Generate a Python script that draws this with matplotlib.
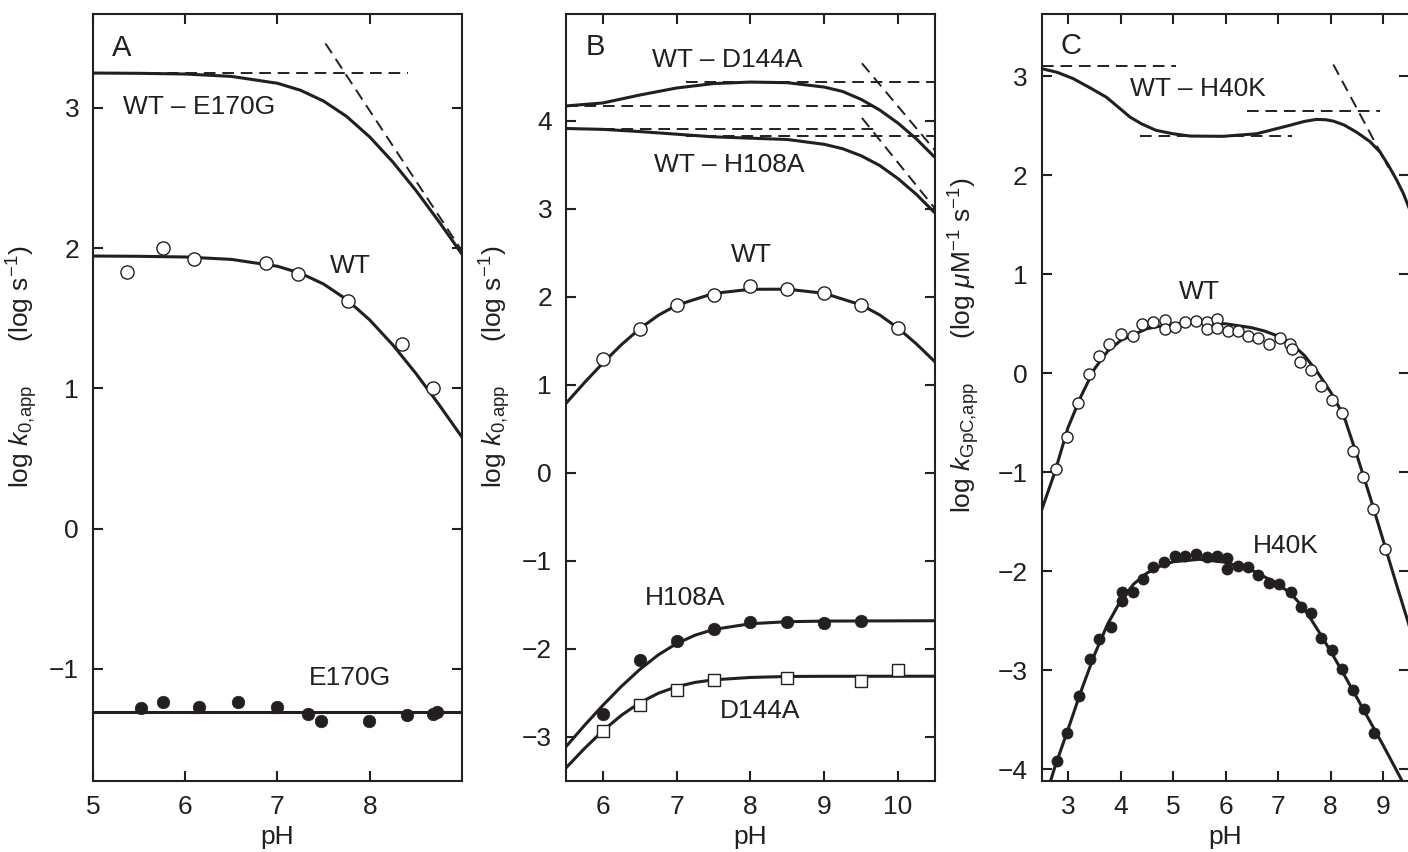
import matplotlib.pyplot as plt

plt.rcParams['font.family'] = ['Liberation Sans', 'DejaVu Sans']
plt.rcParams['mathtext.fontset'] = 'custom'
plt.rcParams['mathtext.rm'] = 'Liberation Sans'
plt.rcParams['mathtext.it'] = 'Liberation Sans:italic'
plt.rcParams['mathtext.bf'] = 'Liberation Sans:bold'

INK = '#231f20'

# ---------------- Panel A data ----------------
a_fit_ph = [5.0, 5.5, 6.0, 6.5, 7.0, 7.25, 7.5, 7.75, 8.0, 8.25, 8.5, 8.75, 9.0]
a_wt_e170g_fit = [3.249, 3.247, 3.242, 3.225, 3.176, 3.126, 3.049, 2.939, 2.793, 2.615, 2.412, 2.190, 1.957]
a_wt_fit = [1.944, 1.942, 1.937, 1.920, 1.871, 1.821, 1.744, 1.634, 1.488, 1.310, 1.107, 0.885, 0.652]
a_wt_ph = [5.37, 5.76, 6.09, 6.87, 7.22, 7.76, 8.35, 8.69]
a_wt_logk = [1.83, 2.00, 1.92, 1.895, 1.815, 1.62, 1.316, 1.00]
a_e170g_ph = [5.52, 5.76, 6.15, 6.57, 6.99, 7.33, 7.47, 7.99, 8.40, 8.69, 8.73]
a_e170g_logk = [-1.28, -1.24, -1.27, -1.24, -1.27, -1.32, -1.375, -1.37, -1.33, -1.32, -1.31]
a_e170g_fit_ph = [5.0, 9.0]
a_e170g_fit = [-1.305, -1.305]
a_guide_flat_ph = [5.0, 8.42]
a_guide_flat = [3.25, 3.25]
a_guide_slope_ph = [7.52, 9.0]
a_guide_slope = [3.46, 1.98]

# ---------------- Panel B data ----------------
b_top_ph = [5.5, 6.0, 6.5, 7.0, 7.5, 8.0, 8.5, 9.0, 9.25, 9.5, 9.75, 10.0, 10.25, 10.5]
b_wt_d144a_fit = [4.166, 4.20, 4.29, 4.37, 4.42, 4.437, 4.43, 4.38, 4.33, 4.24, 4.12, 3.97, 3.79, 3.58]
b_wt_h108a_fit = [3.91, 3.90, 3.875, 3.845, 3.815, 3.80, 3.785, 3.73, 3.68, 3.60, 3.49, 3.34, 3.16, 2.95]
b_wt_fit_ph = [5.5, 5.75, 6.0, 6.25, 6.5, 6.75, 7.0, 7.5, 8.0, 8.5, 9.0, 9.5, 9.75, 10.0, 10.25, 10.5]
b_wt_fit = [0.789, 1.024, 1.247, 1.454, 1.637, 1.788, 1.903, 2.037, 2.084, 2.085, 2.038, 1.906, 1.793, 1.643, 1.462, 1.26]
b_wt_ph = [6.0, 6.5, 7.0, 7.5, 8.0, 8.5, 9.0, 9.5, 10.0]
b_wt_logk = [1.287, 1.634, 1.906, 2.015, 2.117, 2.09, 2.04, 1.906, 1.646]
b_mut_fit_ph = [5.5, 5.75, 6.0, 6.25, 6.5, 6.75, 7.0, 7.25, 7.5, 8.0, 8.5, 9.0, 10.5]
b_h108a_fit = [-3.11, -2.869, -2.640, -2.426, -2.233, -2.068, -1.938, -1.844, -1.779, -1.714, -1.691, -1.684, -1.68]
b_d144a_fit = [-3.351, -3.131, -2.929, -2.754, -2.611, -2.504, -2.429, -2.38, -2.351, -2.324, -2.313, -2.311, -2.31]
b_h108a_ph = [6.0, 6.5, 7.0, 7.5, 8.0, 8.5, 9.0, 9.5]
b_h108a_logk = [-2.744, -2.13, -1.906, -1.774, -1.699, -1.699, -1.706, -1.687]
b_d144a_ph = [6.0, 6.5, 7.0, 7.5, 8.5, 9.5, 10.0]
b_d144a_logk = [-2.935, -2.642, -2.465, -2.352, -2.33, -2.36, -2.245]
b_guides = [
    ([7.12, 10.5], [4.435, 4.435]),
    ([5.5, 9.72], [4.16, 4.16]),
    ([5.5, 9.69], [3.906, 3.906]),
    ([7.12, 10.5], [3.82, 3.82]),
    ([9.51, 10.51], [4.65, 3.65]),
    ([9.51, 10.51], [4.03, 2.99]),
]

# ---------------- Panel C data ----------------
c_wt_h40k_ph = [2.5, 2.8, 3.1, 3.4, 3.73, 4.0, 4.18, 4.4, 4.68, 5.0, 5.32, 5.95, 6.59, 7.22, 7.5,
                7.73, 7.9, 8.05, 8.25, 8.49, 8.75, 8.94, 9.1, 9.26, 9.38, 9.5]
c_wt_h40k_fit = [3.078, 3.04, 2.977, 2.89, 2.79, 2.67, 2.589, 2.52, 2.454, 2.42, 2.397, 2.394, 2.42, 2.505,
                 2.545, 2.565, 2.562, 2.548, 2.51, 2.437, 2.34, 2.235, 2.10, 1.949, 1.82, 1.66]
c_wt_fit_ph = [2.5, 2.75, 3.0, 3.25, 3.5, 3.75, 4.0, 4.25, 4.5, 5.0, 5.5, 6.0, 6.5, 6.75, 7.0, 7.25,
               7.5, 7.75, 8.0, 8.25, 8.5, 8.75, 9.0, 9.25, 9.5]
c_wt_fit = [-1.38, -1.0, -0.55, -0.23, 0.04, 0.22, 0.33, 0.39, 0.45, 0.50, 0.51, 0.50, 0.46, 0.425, 0.375, 0.30,
            0.18, 0.01, -0.19, -0.43, -0.83, -1.25, -1.69, -2.13, -2.56]
c_wt_ph = [2.78, 2.99, 3.19, 3.40, 3.59, 3.79, 4.00, 4.23, 4.41, 4.62, 4.85, 4.85, 5.03, 5.22, 5.43,
           5.64, 5.64, 5.84, 5.84, 6.04, 6.23, 6.42, 6.62, 6.82, 7.03, 7.22, 7.27, 7.41, 7.62,
           7.82, 8.03, 8.22, 8.42, 8.62, 8.81, 9.03]
c_wt_logk = [-0.97, -0.645, -0.30, -0.01, 0.17, 0.30, 0.40, 0.38, 0.50, 0.52, 0.54, 0.45, 0.47, 0.52, 0.53,
             0.52, 0.45, 0.55, 0.46, 0.43, 0.43, 0.38, 0.36, 0.30, 0.36, 0.30, 0.25, 0.11, 0.03,
             -0.13, -0.27, -0.40, -0.79, -1.05, -1.37, -1.78]
c_h40k_fit_ph = [2.6, 2.75, 3.0, 3.25, 3.5, 3.75, 4.0, 4.25, 4.5, 4.75, 5.0, 5.5, 6.0, 6.5, 7.0, 7.25,
                 7.5, 7.75, 8.0, 8.25, 8.5, 8.75, 9.0, 9.25, 9.5]
c_h40k_fit = [-4.24, -3.98, -3.60, -3.21, -2.85, -2.54, -2.30, -2.13, -2.02, -1.95, -1.905, -1.88, -1.91,
              -1.99, -2.13, -2.23, -2.38, -2.59, -2.81, -3.04, -3.28, -3.52, -3.76, -4.01, -4.26]
c_h40k_ph = [2.79, 2.99, 3.21, 3.41, 3.60, 3.81, 4.02, 4.02, 4.23, 4.42, 4.62, 4.82, 5.03, 5.22, 5.43,
             5.64, 5.84, 6.03, 6.03, 6.23, 6.43, 6.62, 6.83, 7.02, 7.24, 7.43, 7.62, 7.81, 8.02,
             8.22, 8.43, 8.63, 8.83]
c_h40k_logk = [-3.92, -3.63, -3.26, -2.89, -2.69, -2.56, -2.30, -2.21, -2.21, -2.08, -1.96, -1.91, -1.85,
               -1.85, -1.83, -1.86, -1.85, -1.87, -1.975, -1.95, -1.96, -2.04, -2.12, -2.13, -2.21,
               -2.36, -2.42, -2.68, -2.80, -2.985, -3.20, -3.39, -3.63]
c_guides = [
    ([2.5, 5.06], [3.108, 3.108]),
    ([4.37, 7.26], [2.394, 2.394]),
    ([6.40, 8.94], [2.653, 2.653]),
    ([8.05, 9.10], [3.12, 2.08]),
]

FS = 19
fig = plt.figure(figsize=(14.08, 8.52), dpi=100)
ax_a = fig.add_axes([0.06605, 0.08333, 0.26207, 0.90023])
ax_b = fig.add_axes([0.40199, 0.08333, 0.26207, 0.90023])
ax_c = fig.add_axes([0.73984, 0.08333, 0.26122, 0.90023])

curve = dict(color=INK, lw=2.2, zorder=3)
guide = dict(color=INK, lw=1.4, linestyle=(0, (6, 3.5)), zorder=2)
open_pt = dict(ls='none', marker='o', mfc='white', mec=INK, mew=1.0, zorder=4)
fill_pt = dict(ls='none', marker='o', mfc=INK, mec=INK, mew=0.5, zorder=4)


def style(ax, xlim, ylim, xticks, yticks, ylabel, label_x, label_y):
    ax.set_xlim(*xlim)
    ax.set_ylim(*ylim)
    ax.set_xticks(xticks)
    ax.set_yticks(yticks)
    ax.tick_params(direction='in', top=True, right=True, length=7, width=1.5,
                   labelsize=FS, pad=10, colors=INK)
    for s in ax.spines.values():
        s.set_linewidth(1.5)
        s.set_color(INK)
    ax.set_xlabel('pH', fontsize=FS, color=INK)
    ax.xaxis.set_label_coords(0.5, -0.057)
    ax.set_ylabel(ylabel, fontsize=FS, color=INK)
    ax.yaxis.set_label_coords(label_x, label_y)


# Panel A
ax_a.plot(a_guide_flat_ph, a_guide_flat, **guide)
ax_a.plot(a_guide_slope_ph, a_guide_slope, **guide)
ax_a.plot(a_fit_ph, a_wt_e170g_fit, **curve)
ax_a.plot(a_fit_ph, a_wt_fit, **curve)
ax_a.plot(a_e170g_fit_ph, a_e170g_fit, **curve)
ax_a.plot(a_wt_ph, a_wt_logk, ms=9.5, **open_pt)
ax_a.plot(a_e170g_ph, a_e170g_logk, ms=9, **fill_pt)
ax_a.text(5.2, 3.43, 'A', fontsize=21, color=INK, va='center')
ax_a.text(5.32, 3.01, 'WT – E170G', fontsize=FS, color=INK, va='center')
ax_a.text(7.57, 1.87, 'WT', fontsize=FS, color=INK, va='center')
ax_a.text(7.34, -1.066, 'E170G', fontsize=FS, color=INK, va='center')
style(ax_a, (5, 9), (-1.8, 3.67), [5, 6, 7, 8], [-1, 0, 1, 2, 3],
      'log $k_{0{,}\\mathrm{app}}$      (log s$^{-1}$)', -0.144, 0.54)

# Panel B
for gx, gy in b_guides:
    ax_b.plot(gx, gy, **guide)
ax_b.plot(b_top_ph, b_wt_d144a_fit, **curve)
ax_b.plot(b_top_ph, b_wt_h108a_fit, **curve)
ax_b.plot(b_wt_fit_ph, b_wt_fit, **curve)
ax_b.plot(b_mut_fit_ph, b_h108a_fit, **curve)
ax_b.plot(b_mut_fit_ph, b_d144a_fit, **curve)
ax_b.plot(b_wt_ph, b_wt_logk, ms=9.5, **open_pt)
ax_b.plot(b_h108a_ph, b_h108a_logk, ms=9, **fill_pt)
ax_b.plot(b_d144a_ph, b_d144a_logk, ls='none', marker='s', ms=8, mfc='white', mec=INK, mew=1.0, zorder=4)
ax_b.text(5.77, 4.84, 'B', fontsize=21, color=INK, va='center')
ax_b.text(6.67, 4.69, 'WT – D144A', fontsize=FS, color=INK, va='center')
ax_b.text(6.69, 3.49, 'WT – H108A', fontsize=FS, color=INK, va='center')
ax_b.text(7.74, 2.47, 'WT', fontsize=FS, color=INK, va='center')
ax_b.text(6.57, -1.417, 'H108A', fontsize=FS, color=INK, va='center')
ax_b.text(7.58, -2.71, 'D144A', fontsize=FS, color=INK, va='center')
style(ax_b, (5.5, 10.5), (-3.5, 5.21), [6, 7, 8, 9, 10], [-3, -2, -1, 0, 1, 2, 3, 4],
      'log $k_{0{,}\\mathrm{app}}$      (log s$^{-1}$)', -0.144, 0.54)

# Panel C
for gx, gy in c_guides:
    ax_c.plot(gx, gy, **guide)
ax_c.plot(c_wt_h40k_ph, c_wt_h40k_fit, **curve)
ax_c.plot(c_wt_fit_ph, c_wt_fit, **curve)
ax_c.plot(c_h40k_fit_ph, c_h40k_fit, **curve)
ax_c.plot(c_wt_ph, c_wt_logk, ms=8, **open_pt)
ax_c.plot(c_h40k_ph, c_h40k_logk, ms=8, **fill_pt)
ax_c.text(2.86, 3.31, 'C', fontsize=21, color=INK, va='center')
ax_c.text(4.18, 2.876, 'WT – H40K', fontsize=FS, color=INK, va='center')
ax_c.text(5.12, 0.82, 'WT', fontsize=FS, color=INK, va='center')
ax_c.text(6.51, -1.75, 'H40K', fontsize=FS, color=INK, va='center')
style(ax_c, (2.5, 9.5), (-4.12, 3.63), [3, 4, 5, 6, 7, 8, 9], [-4, -3, -2, -1, 0, 1, 2, 3],
      'log $k_{\\mathrm{GpC{,}app}}$      (log $\\mu$M$^{-1}$ s$^{-1}$)', -0.163, 0.568)

fig.savefig('out.png', dpi=100)
